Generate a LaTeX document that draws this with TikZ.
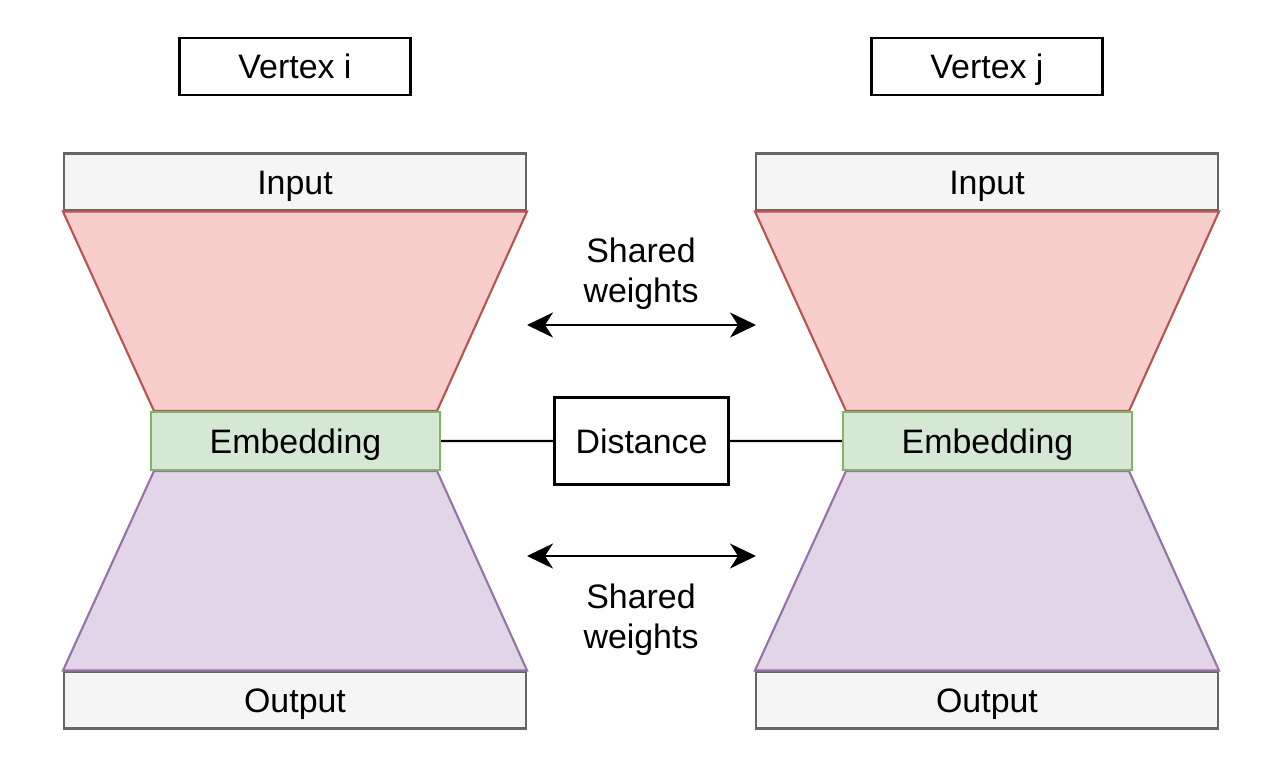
\documentclass[tikz,border=0pt]{standalone}
\usepackage{fontspec}
\setmainfont{Liberation Sans}
\usetikzlibrary{arrows.meta,positioning,calc}
\definecolor{ink}     {HTML}{000000}
\definecolor{iodraw}  {HTML}{666666}
\definecolor{iofill}  {HTML}{F5F5F5}
\definecolor{encdraw} {HTML}{B85450}
\definecolor{encfill} {HTML}{F8CECC}
\definecolor{embdraw} {HTML}{82B366}
\definecolor{embfill} {HTML}{D5E8D4}
\definecolor{decdraw} {HTML}{9673A6}
\definecolor{decfill} {HTML}{E1D5E7}
\pgfdeclarelayer{bottom}
\pgfdeclarelayer{middle}
\pgfsetlayers{bottom,middle,main}
\tikzset{
  lbl/.style      ={font=\fontsize{19.3}{22.8}\selectfont},
  box/.style      ={draw=ink, fill=white, line width=1.3pt,
                    align=center, inner sep=0pt, lbl,
                    text height=13.8pt, text depth=0pt},
  vbox/.style     ={box, minimum width=4.62cm, minimum height=1.14cm},
  iobox/.style    ={box, draw=iodraw, fill=iofill, line width=1.2pt,
                    minimum width=9.24cm, minimum height=1.14cm},
  embbox/.style   ={box, draw=embdraw, fill=embfill, line width=1.2pt,
                    minimum width=5.78cm, minimum height=1.16cm},
  distbox/.style  ={box, minimum width=3.48cm, minimum height=1.74cm},
  enc/.style      ={draw=encdraw, fill=encfill, line width=1.2pt},
  dec/.style      ={draw=decdraw, fill=decfill, line width=1.2pt},
  link/.style     ={draw=ink, line width=1.3pt},
  share/.style    ={{Stealth[length=5.2mm,width=5mm,inset=1.6mm]}-{Stealth[length=5.2mm,width=5mm,inset=1.6mm]},
                    line width=1.3pt},
  note/.style     ={lbl, align=center, inner sep=0pt},
}

\begin{document}
\begin{tikzpicture}[x=0.02cm,y=-0.02cm]
    \useasboundingbox (0,0) rectangle (1270,764);

    % input / output slabs
    \begin{pgfonlayer}{bottom}
      \node[iobox] (inL) at (295,182) {Input};
      \node[iobox, right=4.56cm of inL] (inR) {Input};
      \node[iobox] (outL) at (295,700) {Output};
      \node[iobox, right=4.56cm of outL] (outR) {Output};
    \end{pgfonlayer}

    \node[vbox, above=1.12cm of inL] (vi) {Vertex i};
    \node[vbox, above=1.12cm of inR] (vj) {Vertex j};

    \node[embbox] (embL) at (295.5,441) {Embedding};
    \node[embbox] (embR) at (987.5,441) {Embedding};
    \node[distbox] (dist) at ($(embL)!0.5!(embR)$) {Distance};

    % encoder / decoder halves
    \begin{pgfonlayer}{middle}
      \foreach \s in {L,R} {
        \path[enc] (in\s.south west) -- (in\s.south east)
          -- ([xshift=-0.08cm]emb\s.north east) -- ([xshift=0.08cm]emb\s.north west) -- cycle;
        \path[dec] ([xshift=0.08cm]emb\s.south west) -- ([xshift=-0.08cm]emb\s.south east)
          -- (out\s.north east) -- (out\s.north west) -- cycle;
      }
    \end{pgfonlayer}

    \draw[link] (embL) -- (dist) -- (embR);

    % shared weights
    \node[note] (swTop) at (641,274) {Shared\\weights};
    \node[note] (swBot) at (641,620) {Shared\\weights};
    \coordinate (aTopL) at (527,325);
    \coordinate (aTopR) at (756,325);
    \coordinate (aBotL) at (527,556);
    \coordinate (aBotR) at (756,556);
    \draw[share] (aTopL) -- (aTopR);
    \draw[share] (aBotL) -- (aBotR);
  \end{tikzpicture}
\end{document}
